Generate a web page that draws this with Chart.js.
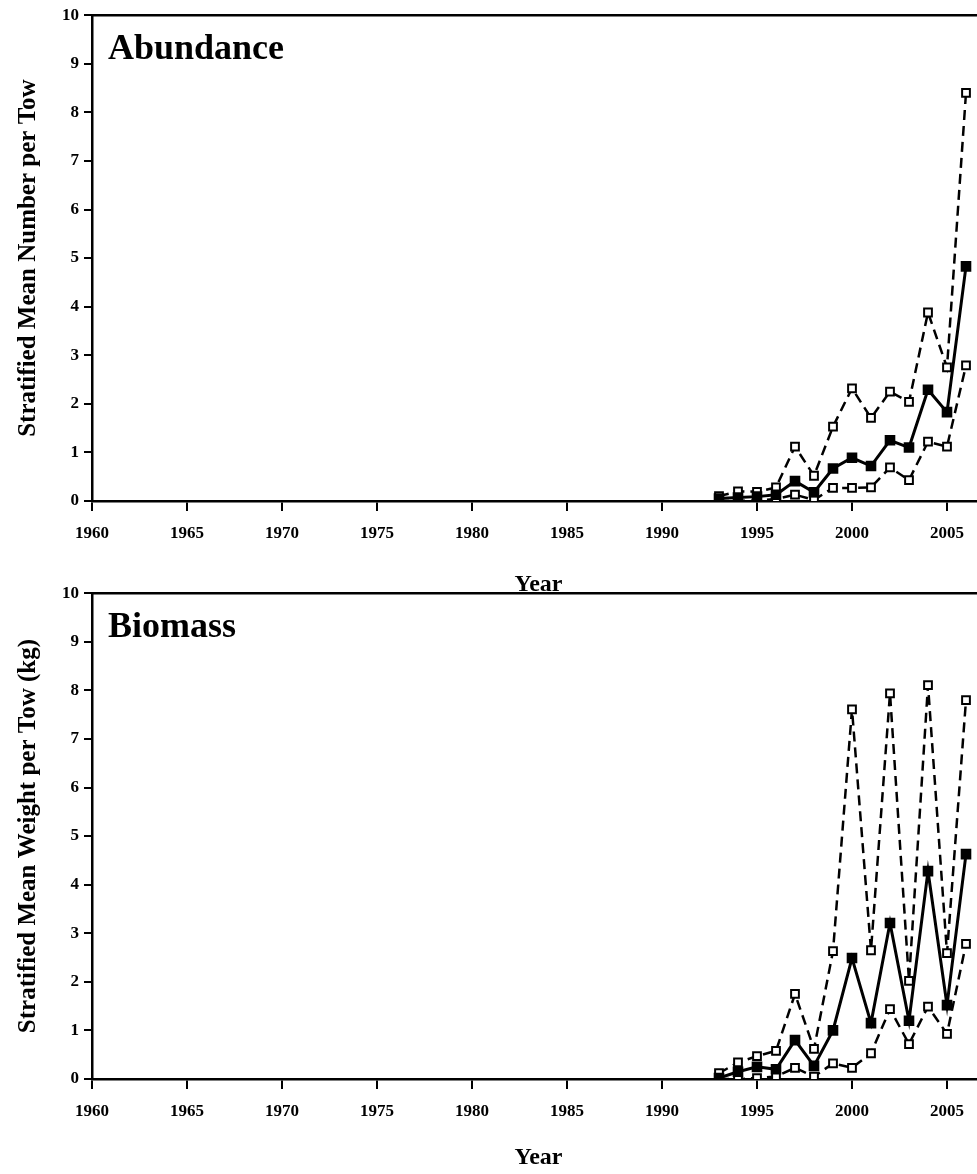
<!DOCTYPE html>
<html>
<head>
    <meta charset="utf-8">
    <title>Stratified mean abundance and biomass</title>
    <style>
        body {
            margin: 0;
            background: #fff;
            overflow: hidden;
        }
        .panel {
            position: absolute;
            left: 0;
        }
    </style>
</head>
<body>
    <canvas id="abundChart" class="panel" width="1000" height="600" style="top:0px;"></canvas>
    <canvas id="bioChart" class="panel" width="1000" height="596" style="top:578px;"></canvas>

    <script src="https://cdn.jsdelivr.net/npm/chart.js"></script>
    <script>
        // survey years
        const years = [1993, 1994, 1995, 1996, 1997, 1998, 1999, 2000, 2001, 2002, 2003, 2004, 2005, 2006];

        // abundance (number per tow): mean and confidence bounds
        const abundMean  = [0.05, 0.07, 0.09, 0.13, 0.41, 0.18, 0.67, 0.89, 0.72, 1.25, 1.10, 2.29, 1.83, 4.83];
        const abundUpper = [0.10, 0.20, 0.19, 0.28, 1.12, 0.52, 1.53, 2.32, 1.71, 2.25, 2.04, 3.88, 2.75, 8.40];
        const abundLower = [0.00, 0.00, 0.01, 0.04, 0.13, 0.02, 0.27, 0.27, 0.28, 0.69, 0.43, 1.22, 1.12, 2.79];

        // biomass (kg per tow): mean and confidence bounds
        const bioMean  = [0.02, 0.15, 0.25, 0.20, 0.80, 0.27, 1.00, 2.49, 1.15, 3.21, 1.20, 4.28, 1.52, 4.63];
        const bioUpper = [0.12, 0.34, 0.47, 0.58, 1.75, 0.62, 2.63, 7.61, 2.65, 7.94, 2.02, 8.11, 2.59, 7.80];
        const bioLower = [0.00, 0.00, 0.02, 0.05, 0.23, 0.05, 0.32, 0.23, 0.53, 1.44, 0.72, 1.49, 0.93, 2.78];

        // axis ticks
        const xTicks = [1960, 1965, 1970, 1975, 1980, 1985, 1990, 1995, 2000, 2005];
        const yTicks = [0, 1, 2, 3, 4, 5, 6, 7, 8, 9, 10];

        const FONT = '"Liberation Serif", "Times New Roman", serif';

        // draws the top frame line and the panel name inside the plot
        const panelLabel = {
            id: 'panelLabel',
            afterDraw(chart, args, opts) {
                const ctx = chart.ctx;
                const area = chart.chartArea;
                ctx.save();
                ctx.strokeStyle = '#000';
                ctx.lineWidth = 2.5;
                ctx.beginPath();
                ctx.moveTo(area.left, area.top);
                ctx.lineTo(area.right + 20, area.top);
                ctx.stroke();
                ctx.fillStyle = '#000';
                ctx.font = 'bold 36px ' + FONT;
                ctx.textBaseline = 'alphabetic';
                ctx.fillText(opts.text, area.left + 16, area.top + 44);
                ctx.restore();
            }
        };

        function toPoints(vals) {
            return years.map((yr, i) => ({ x: yr, y: vals[i] }));
        }

        function boundSet(vals) {
            return {
                data: toPoints(vals),
                borderColor: '#000',
                borderWidth: 2.5,
                borderDash: [10, 6],
                pointStyle: 'rect',
                pointRadius: 5.5,
                pointBackgroundColor: '#fff',
                pointBorderColor: '#000',
                pointBorderWidth: 2,
                tension: 0
            };
        }

        function makeChart(id, name, yTitle, mean, upper, lower, canvasH, yearPad) {
            const ctx = document.getElementById(id).getContext('2d');
            return new Chart(ctx, {
                type: 'line',
                data: {
                    datasets: [
                        {
                            data: toPoints(mean),
                            borderColor: '#000',
                            borderWidth: 3,
                            pointStyle: 'rect',
                            pointRadius: 7.5,
                            pointBackgroundColor: '#000',
                            pointBorderColor: '#000',
                            pointBorderWidth: 0,
                            tension: 0
                        },
                        boundSet(upper),
                        boundSet(lower)
                    ]
                },
                options: {
                    responsive: false,
                    animation: false,
                    layout: { padding: { top: 15, right: 15, left: 0, bottom: 0 } },
                    plugins: {
                        legend: { display: false },
                        tooltip: { enabled: false },
                        panelLabel: { text: name }
                    },
                    scales: {
                        x: {
                            type: 'linear',
                            min: 1960,
                            max: 2007,
                            afterBuildTicks: s => { s.ticks = xTicks.map(v => ({ value: v })); },
                            afterFit: s => { s.height = canvasH - 501; },
                            grid: { drawOnChartArea: false, tickLength: 10, color: '#000', lineWidth: 2 },
                            border: { color: '#000', width: 2.5 },
                            ticks: {
                                autoSkip: false,
                                maxRotation: 0,
                                padding: 12,
                                color: '#000',
                                callback: v => String(v),
                                font: { family: FONT, size: 17, weight: 'bold' }
                            },
                            title: {
                                display: true,
                                text: 'Year',
                                color: '#000',
                                padding: { top: 0, bottom: yearPad },
                                font: { family: FONT, size: 24, weight: 'bold' }
                            }
                        },
                        y: {
                            min: 0,
                            max: 10,
                            afterBuildTicks: s => { s.ticks = yTicks.map(v => ({ value: v })); },
                            afterFit: s => { s.width = 92; },
                            grid: { drawOnChartArea: false, tickLength: 8, color: '#000', lineWidth: 2 },
                            border: { color: '#000', width: 2.5 },
                            ticks: {
                                padding: 5,
                                color: '#000',
                                callback: v => String(v),
                                font: { family: FONT, size: 17, weight: 'bold' }
                            },
                            title: {
                                display: true,
                                text: yTitle,
                                color: '#000',
                                padding: { top: 14, bottom: 0 },
                                font: { family: FONT, size: 25, weight: 'bold' }
                            }
                        }
                    }
                },
                plugins: [panelLabel]
            });
        }

        makeChart('abundChart', 'Abundance', 'Stratified Mean Number per Tow',
            abundMean, abundUpper, abundLower, 600, 1);
        makeChart('bioChart', 'Biomass', 'Stratified Mean Weight per Tow (kg)',
            bioMean, bioUpper, bioLower, 596, 2);
    </script>
</body>
</html>
